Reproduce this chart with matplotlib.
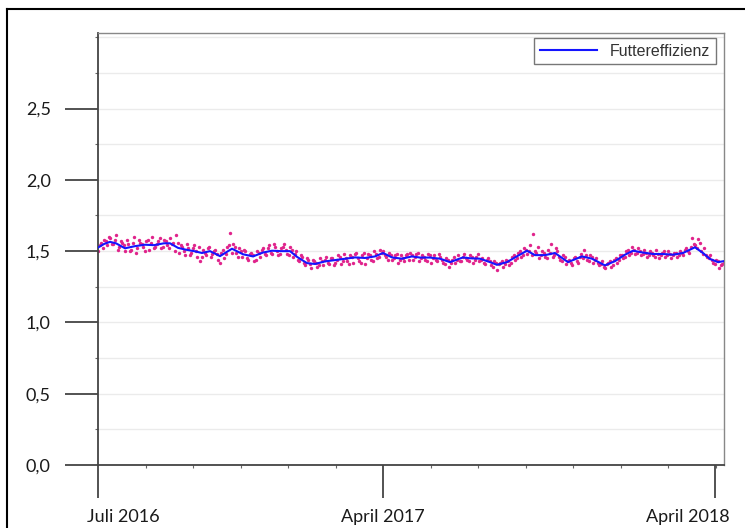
import numpy as np
import matplotlib
matplotlib.use('Agg')
import matplotlib.pyplot as plt
from matplotlib.lines import Line2D
from matplotlib.ticker import FixedLocator, MultipleLocator, FuncFormatter
from matplotlib.transforms import ScaledTranslation

# x = Tag-Index ab Juli 2016
tick_pos = [0, 285, 617]
tick_labels = ['Juli 2016', 'April 2017', 'April 2018']

# geglaettete Futtereffizienz (blaue Linie)
line_x = [0, 6, 12, 18, 27, 37, 47, 56, 66, 72, 80, 88, 96, 104, 112, 122, 134, 145,
          155, 165, 174, 183, 192, 199, 209, 217, 227, 240, 257, 267, 277, 285, 294,
          304, 314, 322, 332, 342, 352, 365, 372, 382, 392, 399, 409, 418, 429, 437,
          447, 457, 470, 484, 494, 507, 517, 527, 535, 545, 555, 565, 575, 585, 597,
          605, 612, 620, 626]
line_y = [1.525, 1.55, 1.565, 1.555, 1.52, 1.535, 1.545, 1.542, 1.555, 1.555, 1.523,
          1.51, 1.50, 1.487, 1.50, 1.465, 1.517, 1.478, 1.463, 1.49, 1.503, 1.50, 1.50,
          1.46, 1.416, 1.41, 1.428, 1.44, 1.456, 1.452, 1.463, 1.487, 1.456, 1.447,
          1.463, 1.455, 1.455, 1.447, 1.423, 1.456, 1.45, 1.447, 1.423, 1.404, 1.423,
          1.46, 1.503, 1.472, 1.472, 1.487, 1.423, 1.463, 1.447, 1.40, 1.43, 1.475,
          1.503, 1.49, 1.48, 1.48, 1.475, 1.487, 1.527, 1.487, 1.445, 1.423, 1.43]

# Tageswerte (Punkte), Serie A ab Tag 0, Serie B ab Tag 1.5, jeweils alle 3 Tage
dot_a = [1.50, 1.56, 1.58, 1.54, 1.59, 1.55, 1.615, 1.53, 1.56, 1.50,
         1.55, 1.51, 1.60, 1.52, 1.56, 1.53, 1.57, 1.51, 1.60, 1.53,
         1.57, 1.52, 1.58, 1.54, 1.59, 1.56, 1.61, 1.49, 1.53, 1.47,
         1.52, 1.49, 1.54, 1.46, 1.43, 1.51, 1.47, 1.53, 1.48, 1.51,
         1.44, 1.49, 1.45, 1.53, 1.63, 1.55, 1.49, 1.52, 1.46, 1.50,
         1.44, 1.49, 1.43, 1.50, 1.46, 1.52, 1.47, 1.54, 1.48, 1.53,
         1.47, 1.52, 1.55, 1.48, 1.53, 1.46, 1.50, 1.43, 1.46, 1.40,
         1.44, 1.38, 1.43, 1.39, 1.45, 1.40, 1.46, 1.41, 1.45, 1.42,
         1.47, 1.41, 1.48, 1.43, 1.47, 1.42, 1.49, 1.43, 1.47, 1.41,
         1.48, 1.44, 1.50, 1.45, 1.51, 1.50, 1.46, 1.49, 1.44, 1.47,
         1.42, 1.47, 1.43, 1.48, 1.49, 1.44, 1.48, 1.43, 1.47, 1.44,
         1.48, 1.42, 1.47, 1.43, 1.46, 1.42, 1.45, 1.39, 1.44, 1.42,
         1.47, 1.43, 1.48, 1.44, 1.47, 1.42, 1.46, 1.43, 1.45, 1.41,
         1.45, 1.40, 1.43, 1.37, 1.42, 1.39, 1.44, 1.40, 1.46, 1.44,
         1.49, 1.46, 1.52, 1.48, 1.54, 1.62, 1.49, 1.45, 1.50, 1.46,
         1.51, 1.55, 1.47, 1.50, 1.44, 1.47, 1.41, 1.44, 1.40, 1.46,
         1.42, 1.48, 1.51, 1.44, 1.47, 1.42, 1.45, 1.40, 1.43, 1.38,
         1.42, 1.39, 1.44, 1.42, 1.47, 1.45, 1.50, 1.47, 1.53, 1.48,
         1.52, 1.47, 1.51, 1.46, 1.50, 1.47, 1.51, 1.45, 1.49, 1.46,
         1.50, 1.45, 1.49, 1.46, 1.50, 1.47, 1.52, 1.49, 1.59, 1.54,
         1.585, 1.50, 1.52, 1.46, 1.47, 1.42, 1.44, 1.38, 1.41]
dot_b = [1.54, 1.52, 1.57, 1.60, 1.55, 1.58, 1.51, 1.57, 1.54, 1.58,
         1.50, 1.56, 1.49, 1.58, 1.55, 1.50, 1.58, 1.56, 1.52, 1.55,
         1.59, 1.53, 1.57, 1.52, 1.55, 1.50, 1.56, 1.54, 1.50, 1.55,
         1.47, 1.52, 1.50, 1.53, 1.46, 1.49, 1.52, 1.46, 1.50, 1.48,
         1.42, 1.51, 1.48, 1.54, 1.49, 1.53, 1.46, 1.50, 1.51, 1.45,
         1.48, 1.47, 1.44, 1.49, 1.51, 1.48, 1.52, 1.49, 1.55, 1.50,
         1.48, 1.53, 1.51, 1.47, 1.51, 1.48, 1.44, 1.47, 1.42, 1.45,
         1.41, 1.44, 1.42, 1.40, 1.43, 1.44, 1.42, 1.45, 1.40, 1.44,
         1.46, 1.43, 1.45, 1.41, 1.46, 1.48, 1.45, 1.42, 1.49, 1.45,
         1.47, 1.43, 1.48, 1.46, 1.49, 1.47, 1.44, 1.47, 1.45, 1.48,
         1.44, 1.45, 1.47, 1.44, 1.47, 1.46, 1.49, 1.45, 1.46, 1.43,
         1.47, 1.45, 1.44, 1.48, 1.44, 1.41, 1.44, 1.42, 1.46, 1.44,
         1.43, 1.46, 1.45, 1.43, 1.46, 1.44, 1.48, 1.44, 1.42, 1.44,
         1.43, 1.39, 1.42, 1.41, 1.43, 1.41, 1.43, 1.42, 1.47, 1.45,
         1.50, 1.47, 1.51, 1.50, 1.47, 1.50, 1.53, 1.47, 1.49, 1.45,
         1.49, 1.46, 1.52, 1.46, 1.43, 1.46, 1.43, 1.42, 1.45, 1.43,
         1.46, 1.45, 1.47, 1.43, 1.46, 1.44, 1.42, 1.41, 1.39, 1.41,
         1.43, 1.40, 1.45, 1.44, 1.47, 1.46, 1.51, 1.49, 1.51, 1.49,
         1.50, 1.48, 1.49, 1.47, 1.49, 1.46, 1.48, 1.47, 1.50, 1.47,
         1.48, 1.47, 1.49, 1.47, 1.49, 1.51, 1.50, 1.53, 1.55, 1.52,
         1.56, 1.48, 1.47, 1.45, 1.44, 1.41, 1.43, 1.40, 1.42]
dot_a_x = np.arange(len(dot_a)) * 3
dot_b_x = np.arange(len(dot_b)) * 3 + 1.5

fig = plt.figure(figsize=(7.45, 5.28), dpi=100)
ax = fig.add_axes([98 / 745, 1 - 465 / 528, 626 / 745, 432 / 528])

# aeusserer Rahmen
fig.add_artist(Line2D([7 / 745, 1], [1 - 9 / 528, 1 - 9 / 528], color='black', lw=1.5))
fig.add_artist(Line2D([7 / 745, 7 / 745], [0, 1 - 9 / 528], color='black', lw=1.5))

ax.scatter(dot_a_x, dot_a, s=6, color='#e0248c', linewidths=0, zorder=2)
ax.scatter(dot_b_x, dot_b, s=6, color='#e0248c', linewidths=0, zorder=2)
ax.plot(line_x, line_y, color='#1414ff', lw=1.5, label='Futtereffizienz', zorder=3)

ax.set_xlim(0, 626)
ax.set_ylim(0, 3.03)

ax.yaxis.set_major_locator(FixedLocator([0, 0.5, 1.0, 1.5, 2.0, 2.5]))
ax.yaxis.set_minor_locator(MultipleLocator(0.25))
ax.yaxis.set_major_formatter(FuncFormatter(lambda v, p: f'{v:.1f}'.replace('.', ',')))
ax.grid(True, which='both', axis='y', color='#ebebeb', lw=1, zorder=0)

ax.xaxis.set_major_locator(FixedLocator(tick_pos))
ax.xaxis.set_minor_locator(MultipleLocator(47.5))
ax.set_xticklabels(tick_labels)

ax.tick_params(axis='both', which='major', direction='out', length=24, width=1.3,
               color='#444444', labelsize=13, labelcolor='#1a1a1a', pad=10)
ax.tick_params(axis='x', which='major', pad=8)
ax.tick_params(axis='both', which='minor', direction='out', length=2.5, width=0.8,
               color='#666666')
for lab in ax.get_xticklabels() + ax.get_yticklabels():
    lab.set_fontfamily('Lato')

# Randbeschriftungen seitlich verschoben wie im Original
xl = ax.get_xticklabels()
xl[0].set_transform(xl[0].get_transform() + ScaledTranslation(25 / 100, 0, fig.dpi_scale_trans))
xl[2].set_transform(xl[2].get_transform() + ScaledTranslation(-27 / 100, 0, fig.dpi_scale_trans))

for s in ['left', 'bottom']:
    ax.spines[s].set_color('#444444')
    ax.spines[s].set_linewidth(1.3)
for s in ['top', 'right']:
    ax.spines[s].set_color('#888888')
    ax.spines[s].set_linewidth(1.0)

leg = ax.legend(loc='upper right', bbox_to_anchor=(0.987, 0.988), fancybox=False,
                framealpha=1, edgecolor='#777777',
                prop={'family': 'Liberation Sans', 'size': 11.5}, handlelength=3.6,
                borderaxespad=0, borderpad=0.35, handletextpad=0.8)
leg.get_frame().set_linewidth(1.0)
leg.get_texts()[0].set_color('#333333')

fig.savefig('out.png', dpi=100)
